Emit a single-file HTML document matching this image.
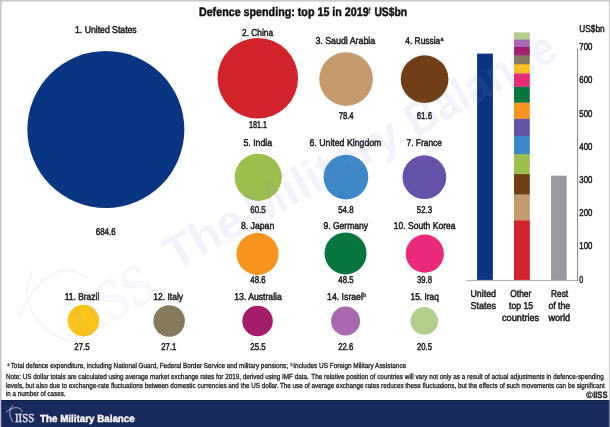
<!DOCTYPE html>
<html><head><meta charset="utf-8"><title>Defence spending: top 15 in 2019</title>
<style>html,body{margin:0;padding:0;background:#fff}body{width:610px;height:427px;overflow:hidden}svg{display:block;will-change:transform}text{font-family:"Liberation Sans",sans-serif;text-rendering:geometricPrecision}.b{font-weight:bold}.s{font-family:"Liberation Serif",serif}</style></head><body>
<svg width="610" height="427" viewBox="0 0 610 427">
<rect x="0" y="0" width="610" height="427" fill="#ffffff"/>
<circle cx="105.85" cy="129.55" r="78.5" fill="#0a3582"/>
<circle cx="257.8" cy="78.3" r="40.25" fill="#d2232a"/>
<circle cx="346.1" cy="79.05" r="26.85" fill="#c59b6d"/>
<circle cx="424.6" cy="79.2" r="23.85" fill="#703f17"/>
<circle cx="258.2" cy="177.3" r="23.6" fill="#9dc04c"/>
<circle cx="345.95" cy="177.1" r="22.35" fill="#3c88c9"/>
<circle cx="424.4" cy="177.2" r="21.85" fill="#6653a9"/>
<circle cx="257.55" cy="253.9" r="21.05" fill="#f7941e"/>
<circle cx="345.55" cy="253.4" r="21.0" fill="#07773f"/>
<circle cx="424.8" cy="253.7" r="19.1" fill="#ec2a7b"/>
<circle cx="83.45" cy="320.65" r="15.8" fill="#fcc419"/>
<circle cx="169.15" cy="321.0" r="15.75" fill="#857a5d"/>
<circle cx="257.55" cy="320.95" r="15.25" fill="#a61c6c"/>
<circle cx="345.55" cy="320.9" r="14.5" fill="#a968b0"/>
<circle cx="424.3" cy="320.9" r="13.8" fill="#b4ce8b"/>
<rect x="477.1" y="53.60" width="15.8" height="226.40" fill="#0a3582"/>
<rect x="514.0" y="220.11" width="15.8" height="60.19" fill="#d2232a"/>
<rect x="514.0" y="194.18" width="15.8" height="26.23" fill="#c59b6d"/>
<rect x="514.0" y="173.81" width="15.8" height="20.67" fill="#703f17"/>
<rect x="514.0" y="153.80" width="15.8" height="20.31" fill="#9dc04c"/>
<rect x="514.0" y="135.68" width="15.8" height="18.42" fill="#3c88c9"/>
<rect x="514.0" y="118.39" width="15.8" height="17.60" fill="#6653a9"/>
<rect x="514.0" y="102.31" width="15.8" height="16.37" fill="#f7941e"/>
<rect x="514.0" y="86.28" width="15.8" height="16.34" fill="#07773f"/>
<rect x="514.0" y="73.11" width="15.8" height="13.46" fill="#ec2a7b"/>
<rect x="514.0" y="64.02" width="15.8" height="9.39" fill="#fcc419"/>
<rect x="514.0" y="55.06" width="15.8" height="9.26" fill="#857a5d"/>
<rect x="514.0" y="46.63" width="15.8" height="8.73" fill="#a61c6c"/>
<rect x="514.0" y="39.15" width="15.8" height="7.77" fill="#a968b0"/>
<rect x="514.0" y="32.37" width="15.8" height="7.08" fill="#b4ce8b"/>
<rect x="551.0" y="175.7" width="15.7" height="104.30" fill="#999b9e"/>
<rect x="466.3" y="279.9" width="111.8" height="1.2" fill="#b5b6b8"/>
<rect x="577.1" y="48.5" width="1" height="232.6" fill="#828386"/>
<text x="198.9" y="16.3" font-size="12.3" textLength="169.8" lengthAdjust="spacingAndGlyphs" class="b" style="fill:#111111;stroke:#111111;stroke-width:0.45">Defence spending: top 15 in 2019</text>
<text x="368.5" y="13.4" font-size="7.6" textLength="2.3" lengthAdjust="spacingAndGlyphs" class="b" style="fill:#111111;stroke:#111111;stroke-width:0.4">†</text>
<text x="374.4" y="16.3" font-size="12.3" textLength="32.8" lengthAdjust="spacingAndGlyphs" class="b" style="fill:#111111;stroke:#111111;stroke-width:0.45">US$bn</text>
<text x="75.0" y="32.7" font-size="9.9" textLength="61.7" lengthAdjust="spacingAndGlyphs" style="fill:#1c191a;stroke:#1c191a;stroke-width:0.5">1. United States</text>
<text x="242.0" y="35.5" font-size="9.9" textLength="31.1" lengthAdjust="spacingAndGlyphs" style="fill:#1c191a;stroke:#1c191a;stroke-width:0.5">2. China</text>
<text x="315.4" y="44.2" font-size="9.9" textLength="59.8" lengthAdjust="spacingAndGlyphs" style="fill:#1c191a;stroke:#1c191a;stroke-width:0.5">3. Saudi Arabia</text>
<text x="405.3" y="44.2" font-size="9.9" textLength="34.9" lengthAdjust="spacingAndGlyphs" style="fill:#1c191a;stroke:#1c191a;stroke-width:0.5">4. Russia</text>
<text x="243.5" y="146.1" font-size="9.9" textLength="28.6" lengthAdjust="spacingAndGlyphs" style="fill:#1c191a;stroke:#1c191a;stroke-width:0.5">5. India</text>
<text x="309.5" y="146.1" font-size="9.9" textLength="71.9" lengthAdjust="spacingAndGlyphs" style="fill:#1c191a;stroke:#1c191a;stroke-width:0.5">6. United Kingdom</text>
<text x="406.5" y="146.1" font-size="9.9" textLength="35.4" lengthAdjust="spacingAndGlyphs" style="fill:#1c191a;stroke:#1c191a;stroke-width:0.5">7. France</text>
<text x="240.9" y="228.5" font-size="9.9" textLength="33.4" lengthAdjust="spacingAndGlyphs" style="fill:#1c191a;stroke:#1c191a;stroke-width:0.5">8. Japan</text>
<text x="323.4" y="228.5" font-size="9.9" textLength="44.7" lengthAdjust="spacingAndGlyphs" style="fill:#1c191a;stroke:#1c191a;stroke-width:0.5">9. Germany</text>
<text x="393.8" y="228.5" font-size="9.9" textLength="61.7" lengthAdjust="spacingAndGlyphs" style="fill:#1c191a;stroke:#1c191a;stroke-width:0.5">10. South Korea</text>
<text x="64.7" y="300.2" font-size="9.9" textLength="34.6" lengthAdjust="spacingAndGlyphs" style="fill:#1c191a;stroke:#1c191a;stroke-width:0.5">11. Brazil</text>
<text x="153.3" y="300.2" font-size="9.9" textLength="29.8" lengthAdjust="spacingAndGlyphs" style="fill:#1c191a;stroke:#1c191a;stroke-width:0.5">12. Italy</text>
<text x="234.3" y="300.2" font-size="9.9" textLength="47.5" lengthAdjust="spacingAndGlyphs" style="fill:#1c191a;stroke:#1c191a;stroke-width:0.5">13. Australia</text>
<text x="327.1" y="300.2" font-size="9.9" textLength="35.8" lengthAdjust="spacingAndGlyphs" style="fill:#1c191a;stroke:#1c191a;stroke-width:0.5">14. Israel</text>
<text x="410.5" y="300.2" font-size="9.9" textLength="28.3" lengthAdjust="spacingAndGlyphs" style="fill:#1c191a;stroke:#1c191a;stroke-width:0.5">15. Iraq</text>
<text x="440.6" y="41.0" font-size="5.9" textLength="3.0" lengthAdjust="spacingAndGlyphs" style="fill:#1c191a;stroke:#1c191a;stroke-width:0.35">a</text>
<text x="363.3" y="297.0" font-size="5.8" textLength="2.8" lengthAdjust="spacingAndGlyphs" style="fill:#1c191a;stroke:#1c191a;stroke-width:0.35">b</text>
<text x="95.7" y="235.2" font-size="9.9" textLength="20.0" lengthAdjust="spacingAndGlyphs" style="fill:#1c191a;stroke:#1c191a;stroke-width:0.5">684.6</text>
<text x="248.9" y="127.9" font-size="9.9" textLength="18.1" lengthAdjust="spacingAndGlyphs" style="fill:#1c191a;stroke:#1c191a;stroke-width:0.5">181.1</text>
<text x="338.7" y="118.8" font-size="9.9" textLength="14.9" lengthAdjust="spacingAndGlyphs" style="fill:#1c191a;stroke:#1c191a;stroke-width:0.5">78.4</text>
<text x="416.7" y="118.8" font-size="9.9" textLength="15.4" lengthAdjust="spacingAndGlyphs" style="fill:#1c191a;stroke:#1c191a;stroke-width:0.5">61.6</text>
<text x="250.2" y="212.5" font-size="9.9" textLength="15.6" lengthAdjust="spacingAndGlyphs" style="fill:#1c191a;stroke:#1c191a;stroke-width:0.5">60.5</text>
<text x="338.2" y="212.5" font-size="9.9" textLength="15.4" lengthAdjust="spacingAndGlyphs" style="fill:#1c191a;stroke:#1c191a;stroke-width:0.5">54.8</text>
<text x="416.8" y="212.5" font-size="9.9" textLength="15.2" lengthAdjust="spacingAndGlyphs" style="fill:#1c191a;stroke:#1c191a;stroke-width:0.5">52.3</text>
<text x="250.3" y="283.4" font-size="9.9" textLength="15.2" lengthAdjust="spacingAndGlyphs" style="fill:#1c191a;stroke:#1c191a;stroke-width:0.5">48.6</text>
<text x="338.3" y="283.4" font-size="9.9" textLength="15.2" lengthAdjust="spacingAndGlyphs" style="fill:#1c191a;stroke:#1c191a;stroke-width:0.5">48.5</text>
<text x="417.0" y="283.4" font-size="9.9" textLength="15.0" lengthAdjust="spacingAndGlyphs" style="fill:#1c191a;stroke:#1c191a;stroke-width:0.5">39.8</text>
<text x="74.3" y="349.8" font-size="9.9" textLength="15.2" lengthAdjust="spacingAndGlyphs" style="fill:#1c191a;stroke:#1c191a;stroke-width:0.5">27.5</text>
<text x="161.3" y="349.8" font-size="9.9" textLength="15.0" lengthAdjust="spacingAndGlyphs" style="fill:#1c191a;stroke:#1c191a;stroke-width:0.5">27.1</text>
<text x="250.3" y="349.8" font-size="9.9" textLength="15.2" lengthAdjust="spacingAndGlyphs" style="fill:#1c191a;stroke:#1c191a;stroke-width:0.5">25.5</text>
<text x="338.3" y="349.8" font-size="9.9" textLength="15.0" lengthAdjust="spacingAndGlyphs" style="fill:#1c191a;stroke:#1c191a;stroke-width:0.5">22.6</text>
<text x="417.0" y="349.8" font-size="9.9" textLength="15.0" lengthAdjust="spacingAndGlyphs" style="fill:#1c191a;stroke:#1c191a;stroke-width:0.5">20.5</text>
<text x="579.3" y="32.4" font-size="9.9" textLength="25.4" lengthAdjust="spacingAndGlyphs" style="fill:#1c191a;stroke:#1c191a;stroke-width:0.5">US$bn</text>
<text x="579.3" y="50.1" font-size="9.9" textLength="13.1" lengthAdjust="spacingAndGlyphs" style="fill:#1c191a;stroke:#1c191a;stroke-width:0.5">700</text>
<text x="579.3" y="83.3" font-size="9.9" textLength="13.1" lengthAdjust="spacingAndGlyphs" style="fill:#1c191a;stroke:#1c191a;stroke-width:0.5">600</text>
<text x="579.3" y="116.5" font-size="9.9" textLength="13.1" lengthAdjust="spacingAndGlyphs" style="fill:#1c191a;stroke:#1c191a;stroke-width:0.5">500</text>
<text x="579.3" y="149.8" font-size="9.9" textLength="13.1" lengthAdjust="spacingAndGlyphs" style="fill:#1c191a;stroke:#1c191a;stroke-width:0.5">400</text>
<text x="579.3" y="183.0" font-size="9.9" textLength="13.1" lengthAdjust="spacingAndGlyphs" style="fill:#1c191a;stroke:#1c191a;stroke-width:0.5">300</text>
<text x="579.3" y="216.2" font-size="9.9" textLength="13.1" lengthAdjust="spacingAndGlyphs" style="fill:#1c191a;stroke:#1c191a;stroke-width:0.5">200</text>
<text x="579.3" y="249.4" font-size="9.9" textLength="13.1" lengthAdjust="spacingAndGlyphs" style="fill:#1c191a;stroke:#1c191a;stroke-width:0.5">100</text>
<text x="579.3" y="282.7" font-size="9.9" textLength="4.0" lengthAdjust="spacingAndGlyphs" style="fill:#1c191a;stroke:#1c191a;stroke-width:0.5">0</text>
<text x="470.5" y="296.6" font-size="10.0" textLength="25.4" lengthAdjust="spacingAndGlyphs" style="fill:#1c191a;stroke:#1c191a;stroke-width:0.5">United</text>
<text x="470.5" y="308.7" font-size="10.0" textLength="25.4" lengthAdjust="spacingAndGlyphs" style="fill:#1c191a;stroke:#1c191a;stroke-width:0.5">States</text>
<text x="510.3" y="296.6" font-size="10.0" textLength="21.0" lengthAdjust="spacingAndGlyphs" style="fill:#1c191a;stroke:#1c191a;stroke-width:0.5">Other</text>
<text x="509.0" y="308.7" font-size="10.0" textLength="24.2" lengthAdjust="spacingAndGlyphs" style="fill:#1c191a;stroke:#1c191a;stroke-width:0.5">top 15</text>
<text x="502.0" y="320.7" font-size="10.0" textLength="37.2" lengthAdjust="spacingAndGlyphs" style="fill:#1c191a;stroke:#1c191a;stroke-width:0.5">countries</text>
<text x="551.0" y="296.6" font-size="10.0" textLength="17.1" lengthAdjust="spacingAndGlyphs" style="fill:#1c191a;stroke:#1c191a;stroke-width:0.5">Rest</text>
<text x="548.4" y="308.7" font-size="10.0" textLength="21.7" lengthAdjust="spacingAndGlyphs" style="fill:#1c191a;stroke:#1c191a;stroke-width:0.5">of the</text>
<text x="548.4" y="320.7" font-size="10.0" textLength="21.8" lengthAdjust="spacingAndGlyphs" style="fill:#1c191a;stroke:#1c191a;stroke-width:0.5">world</text>
<text x="10.7" y="368.4" font-size="7.3" textLength="277.3" lengthAdjust="spacingAndGlyphs" style="fill:#1c191a;stroke:#1c191a;stroke-width:0.3">Total defence expenditure, including National Guard, Federal Border Service and military pensions;</text>
<text x="7.4" y="366.0" font-size="4.5" textLength="2.0" lengthAdjust="spacingAndGlyphs" style="fill:#1c191a;stroke:#1c191a;stroke-width:0.25">a</text>
<text x="290.6" y="366.0" font-size="4.5" textLength="2.0" lengthAdjust="spacingAndGlyphs" style="fill:#1c191a;stroke:#1c191a;stroke-width:0.25">b</text>
<text x="293.3" y="368.4" font-size="7.3" textLength="112.9" lengthAdjust="spacingAndGlyphs" style="fill:#1c191a;stroke:#1c191a;stroke-width:0.3">Includes US Foreign Military Assistance</text>
<text x="5.9" y="379.0" font-size="7.3" textLength="302.9" lengthAdjust="spacingAndGlyphs" style="fill:#1c191a;stroke:#1c191a;stroke-width:0.3">Note: US dollar totals are calculated using average market exchange rates for 2019, derived using IMF data.</text>
<text x="311.3" y="379.0" font-size="7.3" textLength="292.5" lengthAdjust="spacingAndGlyphs" style="fill:#1c191a;stroke:#1c191a;stroke-width:0.3">The relative position of countries will vary not only as a result of actual adjustments in defence-spending</text>
<text x="5.9" y="388.0" font-size="7.3" textLength="272.7" lengthAdjust="spacingAndGlyphs" style="fill:#1c191a;stroke:#1c191a;stroke-width:0.3">levels, but also due to exchange-rate fluctuations between domestic currencies and the US dollar.</text>
<text x="279.9" y="388.0" font-size="7.3" textLength="324.9" lengthAdjust="spacingAndGlyphs" style="fill:#1c191a;stroke:#1c191a;stroke-width:0.3">The use of average exchange rates reduces these fluctuations, but the effects of such movements can be significant</text>
<text x="5.9" y="396.4" font-size="7.3" textLength="59.6" lengthAdjust="spacingAndGlyphs" style="fill:#1c191a;stroke:#1c191a;stroke-width:0.3">in a number of cases.</text>
<text x="586.0" y="397.6" font-size="9.2" textLength="7.0" lengthAdjust="spacingAndGlyphs" class="b" style="fill:#1c191a;stroke:#1c191a;stroke-width:0.2">©</text>
<text x="593.2" y="397.6" font-size="9.4" textLength="14.2" lengthAdjust="spacingAndGlyphs" class="b" style="fill:#1c191a;stroke:#1c191a;stroke-width:0.3">IISS</text>
<g transform="translate(175,271) rotate(-29)" opacity="0.1">
<text x="0" y="0" font-size="47" class="b" style="fill:#828cd2" textLength="84" lengthAdjust="spacingAndGlyphs">The</text>
<text x="92" y="0" font-size="47" class="b" style="fill:#828cd2" textLength="170" lengthAdjust="spacingAndGlyphs">Military</text>
<text x="275" y="0" font-size="47" class="b" style="fill:#828cd2" textLength="165" lengthAdjust="spacingAndGlyphs">Balance</text>
</g><g transform="translate(172,288) rotate(-29)" opacity="0.1">
<text x="-105" y="0" font-size="58" class="s" style="fill:#828cd2;fill-opacity:0.45;stroke:#828cd2;stroke-width:1" textLength="90" lengthAdjust="spacingAndGlyphs">IISS</text>
<path d="M-114 -82.8 Q-153.3 -50.9 -115.5 -1.9" fill="none" stroke="#828cd2" stroke-width="1.6"/>
<path d="M-147.8 -48.1 C-133.1 -60.9 -114 -70.9 -97.4 -70 S-76 -60.9 -68.8 -50" fill="none" stroke="#828cd2" stroke-width="1.6"/>
</g>
<rect x="0" y="400" width="610" height="27" fill="#1b2a5c"/>
<rect x="0" y="400" width="610" height="1" fill="#141f48"/>
<text x="40.0" y="422.2" font-size="10.2" textLength="94.7" lengthAdjust="spacingAndGlyphs" class="b" style="fill:#ffffff;stroke:#ffffff;stroke-width:0.35">The Military Balance</text>
<text x="14.9" y="422.3" font-size="12.2" textLength="19.4" lengthAdjust="spacingAndGlyphs" class="s" style="fill:#e6e9f1;stroke:#e6e9f1;stroke-width:0.35">IISS</text>
<path d="M13 404.9 Q6.4 411.8 12.8 421.9" fill="none" stroke="#d3d7e6" stroke-width="0.75"/>
<path d="M5.9 412.2 C9 409.5 13 407.4 16.5 407.6 S21 409.5 22.5 411.8" fill="none" stroke="#d3d7e6" stroke-width="0.75"/>
<rect x="0" y="0" width="610" height="1.6" fill="#c9c9c9"/>
<rect x="0" y="0" width="1.6" height="400" fill="#c9c9c9"/>
<rect x="0" y="400" width="1.2" height="27" fill="#bfc3d2"/>
<rect x="608.8" y="0" width="1.2" height="400" fill="#cfcfcf"/>
<rect x="608.8" y="400" width="1.2" height="27" fill="#6f7694"/>
</svg></body></html>
